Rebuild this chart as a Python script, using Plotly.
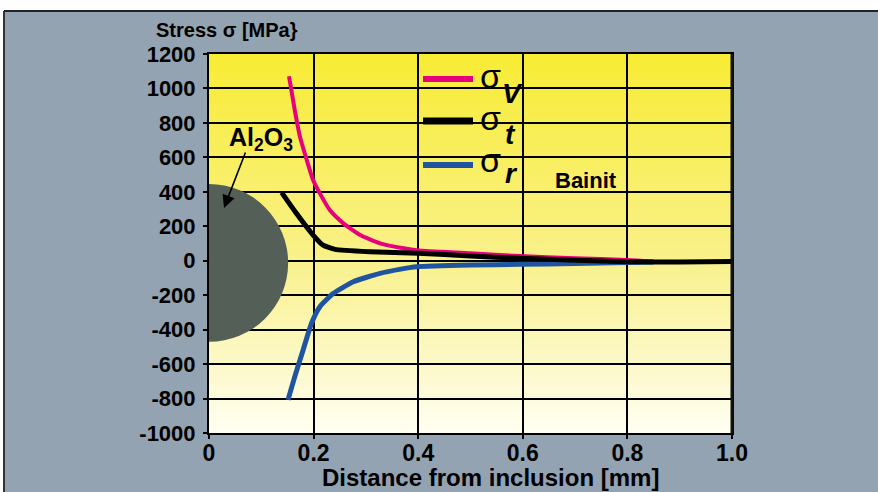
import plotly.graph_objects as go

# ---------------- data ----------------
x_v = [0.153, 0.164, 0.174, 0.187, 0.199, 0.212, 0.231, 0.257, 0.289, 0.327, 0.372, 0.400, 0.50, 0.594, 0.70, 0.80, 0.85]
y_v = [1071, 874, 719, 584, 468, 391, 294, 217, 149, 101, 72, 60, 44, 27, 15, 4, -5]

x_t = [0.139, 0.167, 0.199, 0.218, 0.241, 0.308, 0.400, 0.50, 0.594, 0.70, 0.80, 0.90, 1.0]
y_t = [395, 275, 149, 91, 66, 52, 43, 28, 14, 3, -6, -8, -5]

x_r = [0.151, 0.164, 0.180, 0.196, 0.212, 0.238, 0.276, 0.327, 0.364, 0.397, 0.50, 0.594, 0.70, 0.80, 0.85]
y_r = [-808, -673, -518, -363, -267, -189, -122, -73, -50, -35, -25, -21, -16, -11, -8]

x_ticks = [0, 0.2, 0.4, 0.6, 0.8, 1.0]
x_ticktext = ["0", "0.2", "0.4", "0.6", "0.8", "1.0"]
y_ticks = [-1000, -800, -600, -400, -200, 0, 200, 400, 600, 800, 1000, 1200]
y_ticktext = ["-1000", "-800", "-600", "-400", "-200", "0", "200", "400", "600", "800", "1000", "1200"]

# inclusion (Al2O3) : centre and radii in data units
incl_cx, incl_cy = 0.0, -13
incl_rx, incl_ry = 0.1513, 458

# ---------------- layout geometry ----------------
W, H = 878, 492
L, R, T, B = 209, 732, 54, 433
FONT = "Liberation Sans, Arial, Helvetica, sans-serif"
BG = "#93A3B2"


def px(xp):
    return (xp - L) / (R - L)


def py(yp):
    return (B - yp) / (B - T)


def mix(c1, c2, t):
    return tuple(round(a + (b - a) * t) for a, b in zip(c1, c2))


top_c = (248, 236, 52)
mid_c = (249, 241, 140)
bot_c = (255, 254, 242)

shapes = []
# white strip at top and left of the figure, grey panel otherwise
shapes.append(dict(type="rect", xref="paper", yref="paper", x0=px(-20), x1=px(W + 20),
                   y0=py(11), y1=py(-20), fillcolor="white", line_width=0, layer="below"))
shapes.append(dict(type="rect", xref="paper", yref="paper", x0=px(-20), x1=px(4),
                   y0=py(H + 20), y1=py(-20), fillcolor="white", line_width=0, layer="below"))
shapes.append(dict(type="line", xref="paper", yref="paper", x0=px(4), x1=px(W + 20),
                   y0=py(11), y1=py(11), line=dict(color="#222", width=2), layer="below"))
shapes.append(dict(type="line", xref="paper", yref="paper", x0=px(4), x1=px(4),
                   y0=py(11), y1=py(H + 20), line=dict(color="#333", width=2), layer="below"))

# vertical gradient of the plot area
N = 90
for i in range(N):
    f0 = i / N
    f1 = (i + 1) / N
    fc = (i + 0.5) / N  # 0 bottom -> 1 top
    if fc > 0.45:
        c = mix(mid_c, top_c, (fc - 0.45) / 0.55)
    else:
        c = mix(bot_c, mid_c, fc / 0.45)
    shapes.append(dict(type="rect", xref="x domain", yref="y domain", x0=0, x1=1,
                       y0=f0, y1=f1 + 0.002, fillcolor="rgb(%d,%d,%d)" % c,
                       line_width=0, layer="below"))

# inclusion circle
shapes.append(dict(type="circle", xref="x", yref="y",
                   x0=incl_cx - incl_rx, x1=incl_cx + incl_rx,
                   y0=incl_cy - incl_ry, y1=incl_cy + incl_ry,
                   fillcolor="#535F57", line_width=0, layer="between"))

# legend line samples
leg = [("#E6007E", 79, 6), ("#000000", 121, 7), ("#1F55A0", 165, 6)]
for col, yy, w in leg:
    shapes.append(dict(type="line", xref="paper", yref="paper", x0=px(423), x1=px(473),
                       y0=py(yy), y1=py(yy), line=dict(color=col, width=w), layer="above"))

# right frame a bit heavier
shapes.append(dict(type="line", xref="paper", yref="paper", x0=1, x1=1, y0=0, y1=1,
                   line=dict(color="#111", width=3), layer="above"))

annotations = []


def txt(text, xl, yc, size, bold=True, italic=False, xanchor="left"):
    annotations.append(dict(text=text, xref="paper", yref="paper", x=px(xl), y=py(yc),
                            xanchor=xanchor, yanchor="middle", showarrow=False,
                            font=dict(family=FONT, size=size, color="black",
                                      weight="bold" if bold else "normal",
                                      style="italic" if italic else "normal")))


txt("Stress σ [MPa}", 154, 30, 20)
txt("Distance from inclusion [mm]", 490, 477, 24, xanchor="center")
txt("Bainit", 553, 180, 22)
txt("Al<sub>2</sub>O<sub>3</sub>", 227, 139, 25)

txt("σ", 478, 76, 34, bold=False)
txt("V", 500, 93, 28, italic=True)
txt("σ", 478, 118, 34, bold=False)
txt("t", 503, 134, 28, italic=True)
txt("σ", 478, 160, 34, bold=False)
txt("r", 503, 173, 28, italic=True)

# arrow pointing at the inclusion
annotations.append(dict(text="", xref="paper", yref="paper", x=px(224), y=py(208),
                        ax=246 - 224, ay=151 - 208, axref="pixel", ayref="pixel",
                        showarrow=True, arrowhead=2, arrowsize=1.6, arrowwidth=1.6,
                        arrowcolor="black"))

fig = go.Figure()
fig.add_trace(go.Scatter(x=x_v, y=y_v, mode="lines", name="σV",
                         line=dict(color="#E6007E", width=4, shape="spline", smoothing=0.5)))
fig.add_trace(go.Scatter(x=x_r, y=y_r, mode="lines", name="σr",
                         line=dict(color="#1F55A0", width=5, shape="spline", smoothing=0.5)))
fig.add_trace(go.Scatter(x=x_t, y=y_t, mode="lines", name="σt",
                         line=dict(color="#000000", width=5, shape="spline", smoothing=0.5)))

axis_common = dict(showline=True, mirror=True, linecolor="black", linewidth=2,
                   showgrid=True, gridcolor="black", gridwidth=1.5, zeroline=False,
                   ticks="outside", ticklen=4, tickwidth=1.5, tickcolor="black")

fig.update_xaxes(range=[0, 1], tickvals=x_ticks, ticktext=x_ticktext,
                 tickfont=dict(family=FONT, size=23, color="black", weight="bold"),
                 ticklabelstandoff=-6, **axis_common)
fig.update_yaxes(range=[-1000, 1200], tickvals=y_ticks, ticktext=y_ticktext,
                 tickfont=dict(family=FONT, size=22, color="black", weight="bold"),
                 ticklabelstandoff=3, **axis_common)

fig.update_layout(width=W, height=H, margin=dict(l=L, r=W - R, t=T, b=H - B),
                  paper_bgcolor=BG, plot_bgcolor="rgba(0,0,0,0)",
                  showlegend=False, shapes=shapes, annotations=annotations)

fig.write_html("out.html")
